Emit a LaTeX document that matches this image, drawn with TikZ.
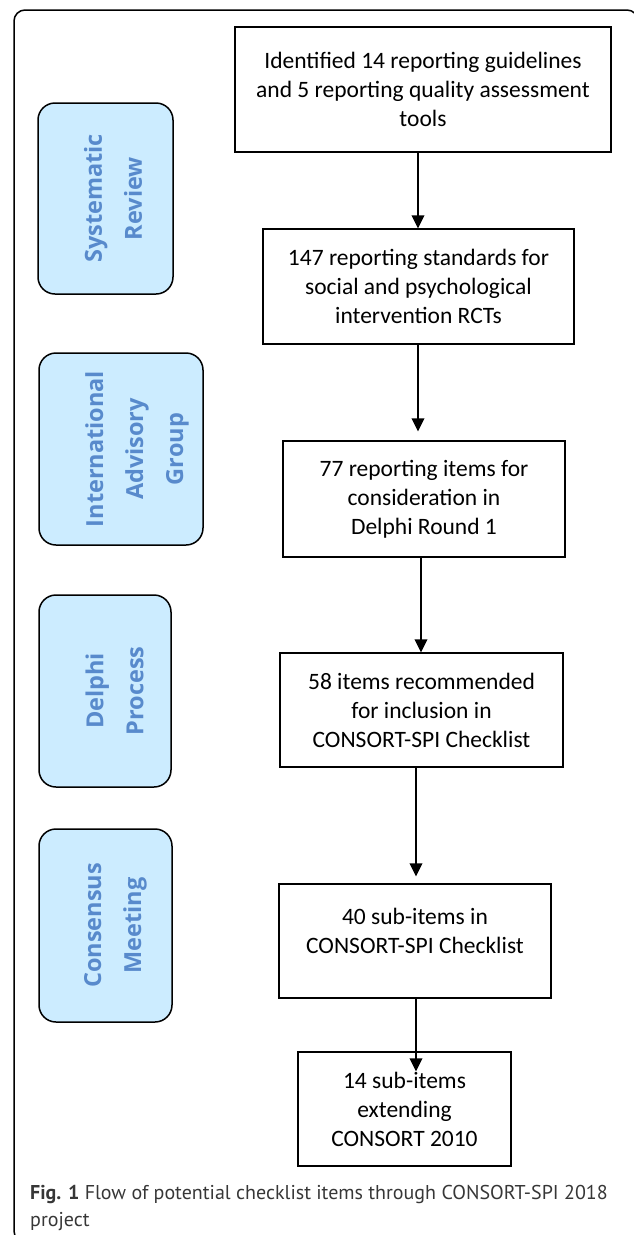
\documentclass[tikz,border=0pt]{standalone}
\usepackage{fontspec}
\setmainfont{Carlito}
\newfontfamily\bluefont{Open Sans}
\newfontfamily\capfont{PT Sans}
\usetikzlibrary{arrows.meta,calc}
\definecolor{bluefill}{RGB}{204,236,255}
\definecolor{bluetext}{RGB}{88,138,204}
\definecolor{captext}{RGB}{55,55,55}
\begin{document}
\begin{tikzpicture}[x=1pt,y=-1pt,
  stepbox/.style={draw=black, line width=1.3pt, inner sep=0pt, align=center,
    font=\fontsize{23.5}{29}\selectfont},
  plaintext/.style={inner sep=0pt, align=center, font=\fontsize{23.5}{29}\selectfont},
  phase/.style={draw=black, line width=1.5pt, fill=bluefill, rounded corners=17pt, inner sep=0pt},
  phasetext/.style={rotate=90, align=center, text=bluetext, inner sep=0pt,
    font=\bluefont\bfseries\fontsize{23.5}{40}\selectfont},
  arr/.style={line width=2pt, -{Triangle[width=12.5pt,length=13pt]}},
  frame/.style={line width=1.5pt, rounded corners=11pt},
]
\useasboundingbox (0,0) rectangle (634,1235);
% outer frame (cropped on right and bottom)
\draw[frame] (14,10) rectangle (638,1242);

% flow boxes
\node[stepbox, minimum width=376pt, minimum height=125pt] (b1) at (423,89.5)
  {Identified 14 reporting guidelines\\and 5 reporting quality assessment\\tools};
\node[stepbox, minimum width=311pt, minimum height=115pt] (b2) at (418.5,286.5)
  {147 reporting standards for\\social and psychological\\intervention RCTs};
\node[stepbox, minimum width=282pt, minimum height=116pt] (b3) at (424,499)
  {77 reporting items for\\consideration in\\Delphi Round 1};
\node[stepbox, minimum width=283pt, minimum height=114pt] (b4) at (421.5,710)
  {58 items recommended\\for inclusion in\\CONSORT-SPI Checklist};
\node[stepbox, minimum width=272pt, minimum height=114pt] (b5) at (415,941) {};
\node[plaintext] (t5) at (415,931) {40 sub-items in\\CONSORT-SPI Checklist};
\node[stepbox, minimum width=213pt, minimum height=114pt] (b6) at (404.5,1109)
  {14 sub-items\\extending\\CONSORT 2010};

% arrow columns
\coordinate (a1) at (418,0);
\coordinate (a2) at (418,0);
\coordinate (a3) at (421,0);
\coordinate (a4) at (416,0);
\coordinate (a5) at (416,0);
\draw[arr] (b1.south -| a1) -- (b2.north -| a1);
\draw[arr, shorten >=9pt] (b2.south -| a2) -- (b3.north -| a2);
\draw[arr] (b3.south -| a3) -- (b4.north -| a3);
\draw[arr, shorten >=7pt] (b4.south -| a4) -- (b5.north -| a4);
\draw[arr, shorten >=-20pt] (b5.south -| a5) -- (b6.north -| a5);

% phase boxes
\node[phase, minimum width=135pt, minimum height=191pt] (p1) at (105.5,198.5) {};
\node[phasetext] (p1t) at ($(p1.center)+(7.5,0)$) {Systematic\\Review};
\node[phase, minimum width=164pt, minimum height=192pt] (p2) at (121,449) {};
\node[phasetext] (p2t) at ($(p2.center)+(16,0)$) {International\\Advisory\\Group};
\node[phase, minimum width=132pt, minimum height=192pt] (p3) at (105,691) {};
\node[phasetext] (p3t) at ($(p3.center)+(9.5,0)$) {Delphi\\Process};
\node[phase, minimum width=133pt, minimum height=193pt] (p4) at (105.5,925.5) {};
\node[phasetext] (p4t) at ($(p4.center)+(10,0)$) {Consensus\\Meeting};

% caption
\node[anchor=north west, inner sep=0pt, align=left, text=captext,
  font=\capfont\fontsize{20}{27}\selectfont] (cap) at (30,1185)
  {{\bfseries Fig. 1} Flow of potential checklist items through CONSORT-SPI 2018\\project};
\end{tikzpicture}
\end{document}
